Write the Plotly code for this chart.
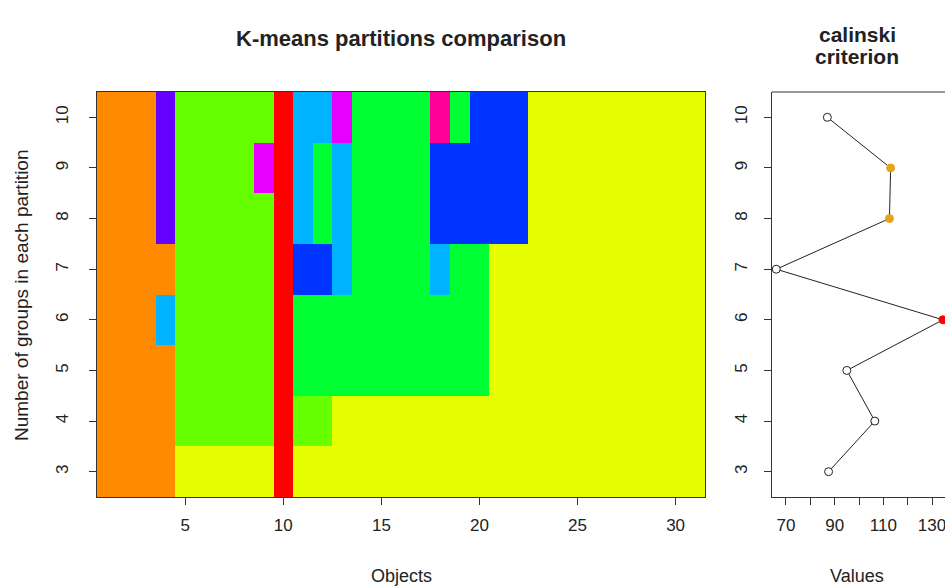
import plotly.graph_objects as go

# ---------------- data ----------------
objects = list(range(1, 32))
groups = [3, 4, 5, 6, 7, 8, 9, 10]

# colour code of every object (1..31) in each partition (K = 3..10)
k3 = "OOOO" "YYYYY" "R" "YYYYYYYYYY" "YYYYYYYYYY" "Y"
k4 = "OOOO" "CCCCC" "R" "CC" "YYYYYYYYYY" "YYYYYYYYY"
k5 = "OOOO" "CCCCC" "R" "GGGGGGGGGG" "YYYYYYYYYY" "Y"
k6 = "OOOB" "CCCCC" "R" "GGGGGGGGGG" "YYYYYYYYYY" "Y"
k7 = "OOOO" "CCCCC" "R" "DD" "B" "GGGG" "B" "GG" "YYYYYYYYYY" "Y"
k8 = "OOOP" "CCCCC" "R" "B" "G" "B" "GGGG" "DDDDD" "YYYYYYYYY"
k9 = "OOOP" "CCCCM" "R" "B" "G" "B" "GGGG" "DDDDD" "YYYYYYYYY"
k10 = "OOOP" "CCCCC" "R" "BB" "M" "GGGG" "K" "G" "DDD" "YYYYYYYYY"
partitions = [k3, k4, k5, k6, k7, k8, k9, k10]

code_names = ["O", "Y", "C", "G", "R", "B", "D", "P", "M", "K"]
code_colors = ["#FF8A00", "#E6FF00", "#66FF00", "#00FF33", "#FF0000",
               "#00B3FF", "#0033FF", "#6600FF", "#E600FF", "#FF0099"]

calinski = [87.5, 106.5, 95.0, 134.5, 66.0, 112.5, 113.0, 87.0]
point_fill = ["white", "white", "white", "#FF0000", "white", "#E6A21A", "#E6A21A", "white"]
point_line = ["#222222", "#222222", "#222222", "#FF0000", "#222222", "#E6A21A", "#E6A21A", "#222222"]

x_ticks_left = [5, 10, 15, 20, 25, 30]
x_ticks_right = [70, 80, 90, 100, 110, 120, 130]
x_ticktext_right = ["70", "", "90", "", "110", "", "130"]

# ---------------- figure ----------------
for p in partitions:
    assert len(p) == 31, p

z = [[code_names.index(ch) for ch in p] for p in partitions]
n = len(code_colors)
colorscale = []
for i, c in enumerate(code_colors):
    colorscale.append([i / n, c])
    colorscale.append([(i + 1) / n, c])

W, H = 945, 587
FONT = "Liberation Sans, Arial, sans-serif"
TXT = "#222222"


def px(x):
    return x / W


def py(y):
    return (H - y) / H


fig = go.Figure()
fig.add_trace(go.Heatmap(
    x=objects, y=groups, z=z, zmin=-0.5, zmax=n - 0.5,
    colorscale=colorscale, showscale=False, hoverinfo="skip",
    xaxis="x", yaxis="y"))

fig.add_trace(go.Scatter(
    x=calinski, y=groups, mode="lines",
    line=dict(color="#222222", width=1),
    xaxis="x2", yaxis="y2", showlegend=False, hoverinfo="skip"))
fig.add_trace(go.Scatter(
    x=calinski, y=groups, mode="markers",
    marker=dict(size=8, color=point_fill, line=dict(color=point_line, width=1)),
    xaxis="x2", yaxis="y2", showlegend=False, cliponaxis=False))

axis_common = dict(showgrid=False, zeroline=False, ticks="outside", ticklen=7,
                   tickcolor="#333333", showline=True, linecolor="#333333",
                   linewidth=1, ticklabeloverflow="allow",
                   tickfont=dict(family=FONT, size=17, color=TXT))

fig.update_layout(
    width=W, height=H, margin=dict(l=0, r=0, t=0, b=0),
    plot_bgcolor="white", paper_bgcolor="white", showlegend=False,
    xaxis=dict(domain=[px(97), px(705)], range=[0.5, 31.5], ticklabelstandoff=6,
               tickvals=x_ticks_left, mirror=True, anchor="y", **axis_common),
    yaxis=dict(domain=[py(497), py(92)], range=[2.5, 10.5], ticklabelstandoff=14,
               tickvals=groups, tickangle=-90, mirror=True, anchor="x", **axis_common),
    xaxis2=dict(domain=[px(772), 1.0], range=[64.26, 135.33], ticklabelstandoff=6,
                tickvals=x_ticks_right, ticktext=x_ticktext_right, anchor="y2",
                **axis_common),
    yaxis2=dict(domain=[py(497), py(92)], range=[2.5, 10.5], ticklabelstandoff=10,
                tickvals=groups, tickangle=-90, anchor="x2", **axis_common),
)

# top border of the right panel
fig.add_shape(type="line", xref="paper", yref="paper",
              x0=px(772), x1=1.0, y0=py(92), y1=py(92),
              line=dict(color="#333333", width=1))

ann = [
    dict(text="<b>K-means partitions comparison</b>", x=px(401), y=py(38), size=22),
    dict(text="<b>calinski</b>", x=px(857), y=py(34), size=21),
    dict(text="<b>criterion</b>", x=px(857), y=py(57), size=21),
    dict(text="Objects", x=px(401), y=py(576), size=18),
    dict(text="Values", x=px(857), y=py(576), size=18),
]
for a in ann:
    fig.add_annotation(text=a["text"], x=a["x"], y=a["y"], xref="paper", yref="paper",
                       showarrow=False, xanchor="center", yanchor="middle",
                       font=dict(family=FONT, size=a["size"], color=TXT))
fig.add_annotation(text="Number of groups in each partition", x=px(21), y=py(295),
                   xref="paper", yref="paper", showarrow=False, textangle=-90,
                   xanchor="center", yanchor="middle",
                   font=dict(family=FONT, size=19, color=TXT))

page_js = ("document.body.style.margin='0';"
           "document.body.style.overflow='hidden';"
           "document.documentElement.style.overflow='hidden';")
fig.write_html("out.html", post_script=page_js,
               config={"displayModeBar": False, "staticPlot": True})
